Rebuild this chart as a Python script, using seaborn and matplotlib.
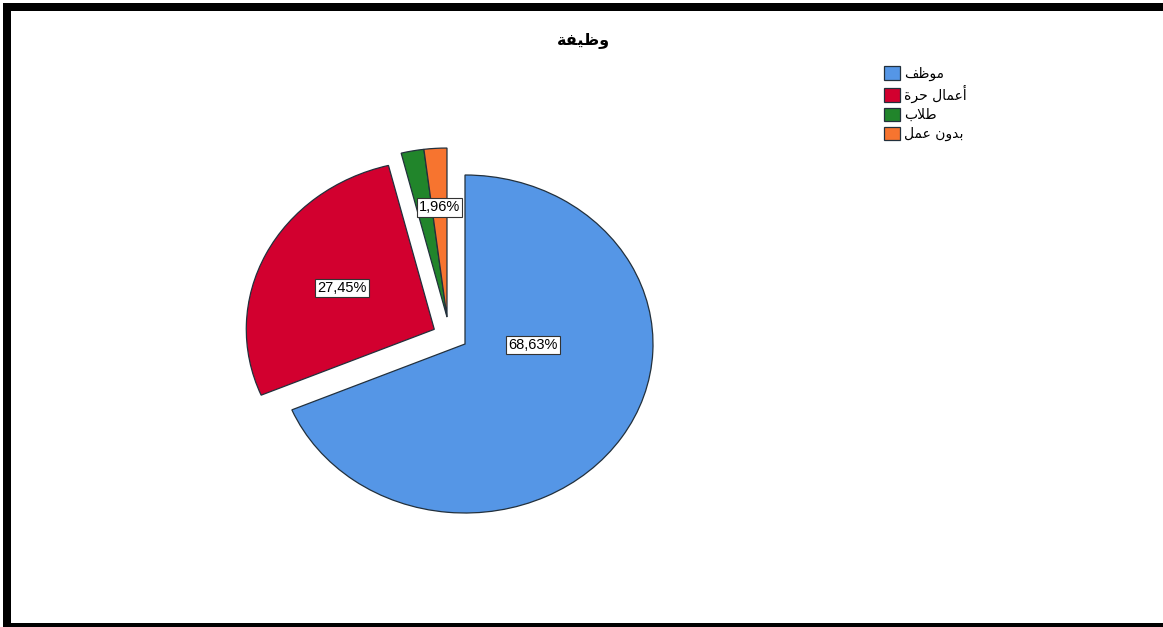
import numpy as np
import matplotlib
matplotlib.use("Agg")
import matplotlib.pyplot as plt
from matplotlib.patches import Rectangle, Patch
import seaborn as sns

# Occupation categories (Arabic, pre-shaped presentation forms in visual order)
title_text = "\uFE94\uFED4\uFEF4\uFEC7\uFEED"                       # وظيفة
categories = [
    "\uFED2\uFEC7\uFEEE\uFEE3",                                       # موظف
    "\uFE93\uFEAE\uFEA3 \uFEDD\uFE8E\uFEE4\uFECB\uFE83",             # أعمال حرة
    "\uFE8F\uFEFC\uFEC3",                                             # طلاب
    "\uFEDE\uFEE4\uFECB \uFEE5\uFEED\uFEAA\uFE91",                   # بدون عمل
]
percentages = [68.63, 27.45, 1.96, 1.96]
colors = ["#5596E6", "#D2002F", "#21852B", "#F7742F"]

# which slice labels are shown
show_label = [True, True, False, True]

sns.set_theme(style="white")
plt.rcParams["font.family"] = ["Liberation Sans", "DejaVu Sans"]
plt.rcParams["text.color"] = "black"

W, H = 1163, 627
fig = plt.figure(figsize=(W / 100, H / 100), dpi=100)
fig.patch.set_facecolor("white")

# pie centre and semi-axes in pixels (slightly elliptical pie)
cx, cy, rx, ry = 465, 344, 188, 169
ax = fig.add_axes([0, 0, 1, 1])
wedges, _ = ax.pie(
    percentages, colors=colors, startangle=90, counterclock=False,
    wedgeprops=dict(edgecolor="#22303c", linewidth=0.9),
)
ax.set_aspect("auto")
ax.set_xlim(-cx / rx, (W - cx) / rx)
ax.set_ylim(-(H - cy) / ry, cy / ry)
ax.axis("off")

# detached slices: distance and direction of the shift
explode_r = [0.0, 0.185, 0.186, 0.186]
explode_deg = [0.0, 152.0, 121.0, 121.0]
label_r = [0.36, 0.55, 0.65, 0.65]

for i, w in enumerate(wedges):
    a = np.deg2rad(explode_deg[i])
    ox, oy = explode_r[i] * np.cos(a), explode_r[i] * np.sin(a)
    w.set_center((ox, oy))
    mid = np.deg2rad((w.theta1 + w.theta2) / 2)
    if i == 0:
        mid = np.deg2rad(-1)
    if show_label[i]:
        lx = ox + label_r[i] * np.cos(mid)
        ly = oy + label_r[i] * np.sin(mid)
        txt = f"{percentages[i]:.2f}%".replace(".", ",")
        ax.text(lx, ly, txt, ha="center", va="center", fontsize=10.5,
                color="black", zorder=5,
                bbox=dict(boxstyle="square,pad=0.15", facecolor="white",
                          edgecolor="#333333", linewidth=0.8))

fig.text(583 / W, 1 - 40 / H, title_text, ha="center", va="center",
         fontsize=11.5, fontweight="bold", color="black",
         family=["DejaVu Sans"])

handles = [Patch(facecolor=c, edgecolor="#22303c", linewidth=0.9) for c in colors]
leg = fig.legend(handles, categories, loc="upper left",
                 bbox_to_anchor=(874 / W, 1 - 56 / H), frameon=False,
                 handlelength=1.15, handleheight=1.15,
                 handletextpad=0.3, labelspacing=0.32, borderpad=0.2,
                 prop={"family": "DejaVu Sans", "size": 10})
for t in leg.get_texts():
    t.set_color("black")

# black frame on top, left and bottom edges
def px_rect(x0, y0, x1, y1):
    fig.add_artist(Rectangle((x0 / W, 1 - y1 / H), (x1 - x0) / W, (y1 - y0) / H,
                             transform=fig.transFigure, facecolor="black",
                             edgecolor="none", zorder=10))

px_rect(3, 3, W, 11)
px_rect(3, 3, 11, 627)
px_rect(3, 623, W, 627)

fig.savefig("out.png", dpi=100, facecolor="white")
